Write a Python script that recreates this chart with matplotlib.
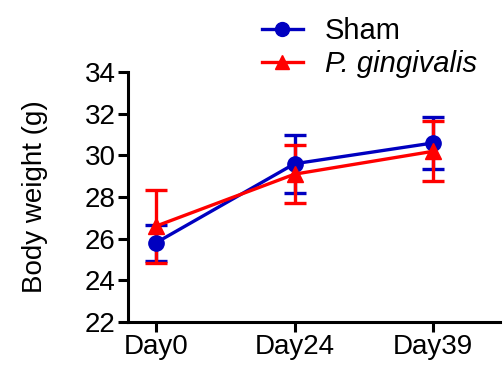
import matplotlib.pyplot as plt
import matplotlib
from matplotlib.lines import Line2D

matplotlib.rcParams["font.family"] = ["Liberation Sans", "DejaVu Sans"]

days = ["Day0", "Day24", "Day39"]
sham_mean = [25.8, 29.6, 30.6]
sham_sd = [0.85, 1.4, 1.25]
pg_mean = [26.6, 29.1, 30.2]
pg_sd = [1.75, 1.4, 1.45]

blue = "#0000c0"
red = "#ff0000"

fig = plt.figure(figsize=(5.04, 3.68), dpi=100)
ax = fig.add_axes([0.254, 0.125, 0.738, 0.679])

x = range(len(days))
ax.errorbar(x, sham_mean, yerr=sham_sd, color=blue, marker="o", markersize=11,
             linewidth=2.4, elinewidth=2.4, capsize=8, capthick=2.4)
ax.errorbar(x, pg_mean, yerr=pg_sd, color=red, marker="^", markersize=11,
             linewidth=2.4, elinewidth=2.4, capsize=8, capthick=2.4)

ax.set_xlim(-0.2, 2.48)
ax.set_ylim(22, 34)
ax.set_yticks(range(22, 35, 2))
ax.set_xticks(list(x))
ax.set_xticklabels(days)
ax.set_ylabel("Body weight (g)", fontsize=20, labelpad=26)
ax.tick_params(labelsize=20, width=2.2, length=7, direction="out", pad=2)

for s in ["top", "right"]:
    ax.spines[s].set_visible(False)
for s in ["left", "bottom"]:
    ax.spines[s].set_linewidth(2.2)

# legend handles without error bars
handles = [Line2D([], [], color=blue, marker="o", markersize=10, linewidth=2.4),
           Line2D([], [], color=red, marker="^", markersize=10, linewidth=2.4)]
leg = fig.legend(handles, ["Sham", "P. gingivalis"], loc="upper left",
                 bbox_to_anchor=(0.485, 1.0), frameon=False, fontsize=21,
                 handlelength=1.4, labelspacing=0.15, handletextpad=0.75,
                 borderpad=0.1)
leg.get_texts()[1].set_style("italic")

plt.savefig("out.png", dpi=100)
